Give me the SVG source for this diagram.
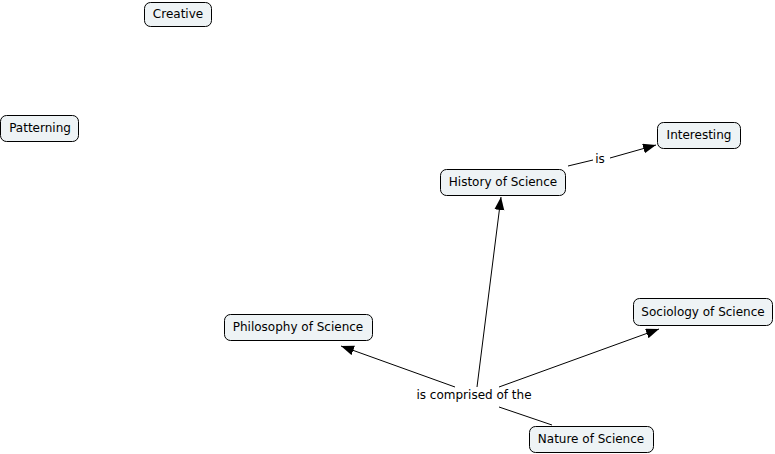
<svg xmlns="http://www.w3.org/2000/svg" width="775" height="454" viewBox="0 0 775 454">
<style>
.box{fill:#eef3f5;stroke:#000;stroke-width:1}
.t{font-family:"DejaVu Sans",Verdana,sans-serif;font-size:12px;fill:#000;text-anchor:middle}
.c{stroke:#000;stroke-width:1;fill:none}
</style>
<defs>
<marker id="ah" markerUnits="userSpaceOnUse" markerWidth="14" markerHeight="12" refX="13" refY="5" orient="auto">
<path d="M0,0 L13,5 L0,10 Z" fill="#000"/>
</marker>
</defs>
<rect width="775" height="454" fill="#fff"/>
<g id="connectors">
<line class="c" x1="568" y1="166" x2="593" y2="160"/>
<line class="c" x1="610" y1="158" x2="656" y2="145" marker-end="url(#ah)"/>
<line class="c" x1="552" y1="425" x2="499" y2="407"/>
<line class="c" x1="455" y1="387" x2="341" y2="346" marker-end="url(#ah)"/>
<line class="c" x1="477" y1="387" x2="501" y2="197" marker-end="url(#ah)"/>
<line class="c" x1="499" y1="387" x2="659" y2="329" marker-end="url(#ah)"/>
<text class="t" x="600" y="163">is</text>
<text class="t" x="474" y="399">is comprised of the</text>
</g>
<g id="creative"><rect class="box" x="144.5" y="2.5" width="67" height="24" rx="6"/><text class="t" x="178" y="18">Creative</text></g>
<g id="patterning"><rect class="box" x="0.5" y="115.5" width="78" height="26" rx="6"/><text class="t" x="40" y="132">Patterning</text></g>
<g id="interesting"><rect class="box" x="657.5" y="122.5" width="83" height="26" rx="6"/><text class="t" x="699" y="139">Interesting</text></g>
<g id="history"><rect class="box" x="440.5" y="169.5" width="125" height="26" rx="6"/><text class="t" x="503" y="186">History of Science</text></g>
<g id="philosophy"><rect class="box" x="224.5" y="314.5" width="148" height="26" rx="6"/><text class="t" x="298" y="331">Philosophy of Science</text></g>
<g id="sociology"><rect class="box" x="633.5" y="298.5" width="139" height="27" rx="6"/><text class="t" x="703" y="316">Sociology of Science</text></g>
<g id="nature"><rect class="box" x="529.5" y="426.5" width="124" height="26" rx="6"/><text class="t" x="591" y="443">Nature of Science</text></g>
</svg>
